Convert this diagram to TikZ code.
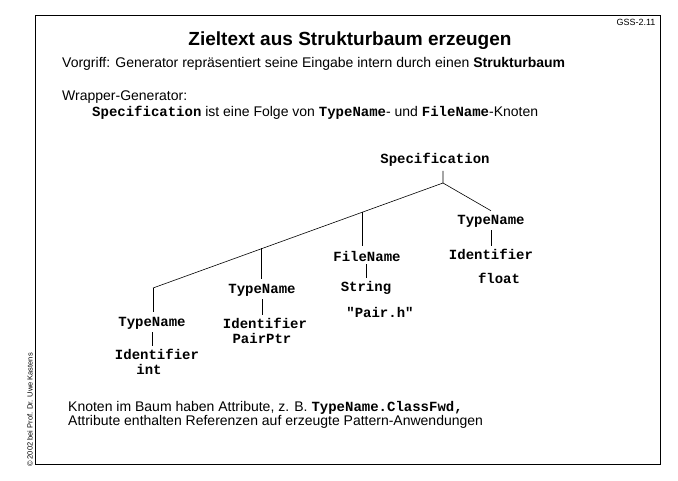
\documentclass[tikz,border=0pt]{standalone}
\usepackage{fontspec}
\setmainfont{Liberation Sans}
\setmonofont{Liberation Mono}
\begin{document}
\begin{tikzpicture}[x=1pt,y=-1pt,
  tr/.style={font=\ttfamily\bfseries\fontsize{14}{14}\selectfont,inner sep=0pt},
  tx/.style={font=\fontsize{14}{16}\selectfont,inner sep=0pt,anchor=west},
  ed/.style={line width=0.6pt}]
\useasboundingbox (0,0) rectangle (678,480);
\draw[line width=1pt] (35,15) rectangle (660,464);
\node[inner sep=0pt,font=\fontsize{9}{9}\selectfont] (gss) at (636,22) {GSS-2.11};
\node[inner sep=0pt,font=\bfseries\fontsize{19}{19}\selectfont] (title) at (350,41) {Zieltext aus Strukturbaum erzeugen};
\node[tx] (l1) at (62,64) {Vorgriff: Generator repräsentiert seine Eingabe intern durch einen \textbf{Strukturbaum}};
\node[tx] (l2) at (62,97) {Wrapper-Generator:};
\node[tx] (l3) at (92,113) {{\ttfamily\bfseries Specification} ist eine Folge von {\ttfamily\bfseries TypeName}- und {\ttfamily\bfseries FileName}-Knoten};
\node[tx] (b1) at (68,408) {Knoten im Baum haben Attribute, z. B. {\ttfamily\bfseries TypeName.ClassFwd,}};
\node[tx] (b2) at (68,422) {Attribute enthalten Referenzen auf erzeugte Pattern-Anwendungen};
\node[inner sep=0pt,rotate=90,font=\fontsize{7.5}{8}\selectfont] (cr) at (30,410) {\copyright{} 2002 bei Prof. Dr. Uwe Kastens};
% tree
\node[tr] (spec) at (435,160) {Specification};
\coordinate (j0) at (443,183);
\coordinate (j1) at (362,212);
\coordinate (j2) at (261,248);
\coordinate (j3) at (153,288);
\node[tr] (t4) at (491,221) {TypeName};
\node[tr] (i4) at (491,254) {Identifier};
\node[tr] (v4) at (499,278) {float};
\node[tr] (f1) at (367,256) {FileName};
\node[tr] (s1) at (366,288) {String};
\node[tr] (v1) at (380,312) {"Pair.h"};
\node[tr] (t2) at (262,290) {TypeName};
\node[tr] (i2) at (265,323) {Identifier};
\node[tr] (v2) at (262,338) {PairPtr};
\node[tr] (t3) at (152,323) {TypeName};
\node[tr] (i3) at (157,354) {Identifier};
\node[tr] (v3) at (149,369) {int};
\draw[ed] ([yshift=-4pt]spec.south -| j0) -- (j0) -- (j3);
\draw[ed] (j0) -- ([yshift=4pt]t4.north);
\draw[ed] (j1) -- ([yshift=5pt]j1 |- f1.north);
\draw[ed] (j2) -- ([yshift=5pt]j2 |- t2.north);
\draw[ed] (j3) -- ([yshift=5pt]j3 |- t3.north);
\draw[ed] ([yshift=-3pt]t4.south) -- ([yshift=3pt]i4.north);
\draw[ed] ([yshift=-3pt]f1.south -| s1) -- ([yshift=3pt]s1.north);
\draw[ed] ([yshift=-3pt]t2.south) -- ([yshift=3pt]t2.south |- i2.north);
\draw[ed] ([yshift=-3pt]t3.south) -- ([yshift=3pt]t3.south |- i3.north);
\end{tikzpicture}
\end{document}
